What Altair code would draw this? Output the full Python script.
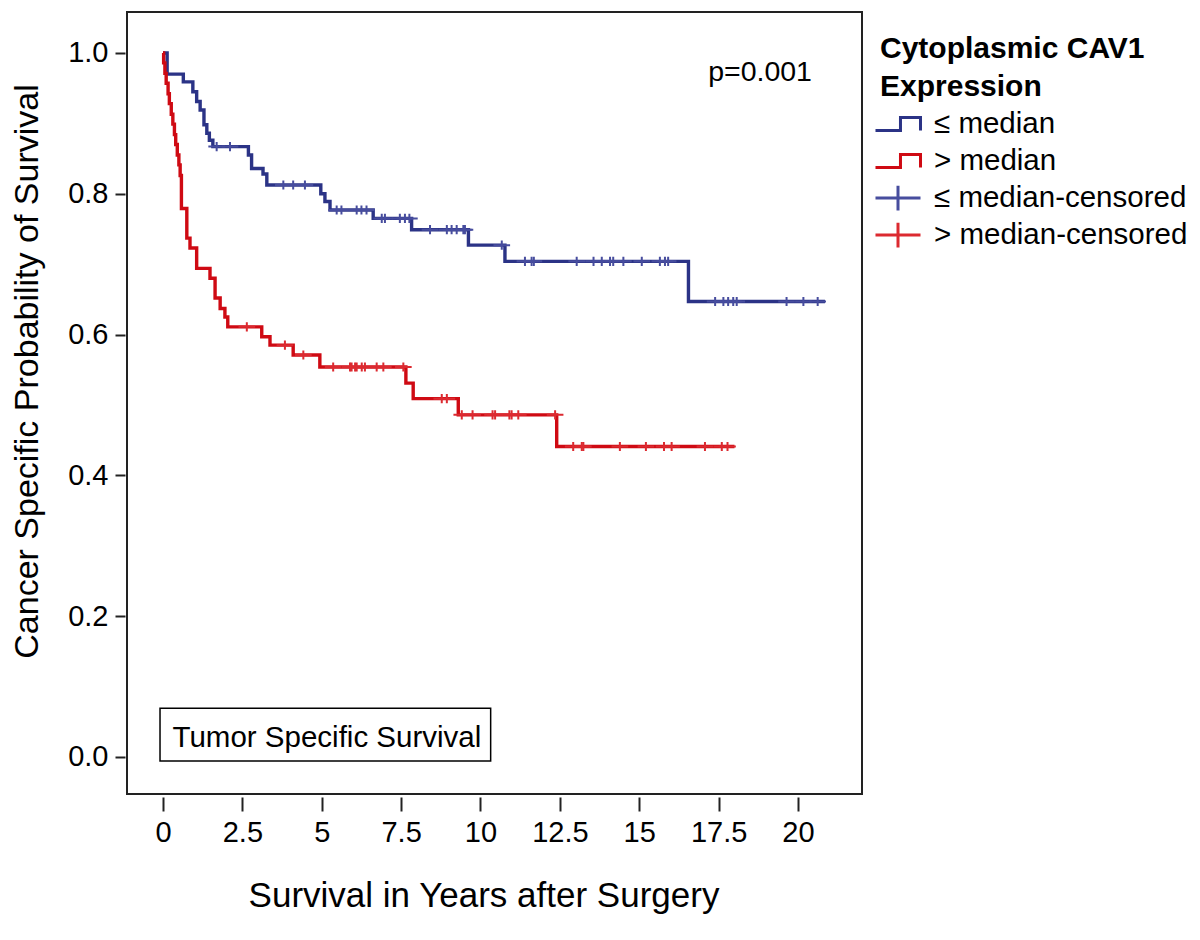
import altair as alt
import pandas as pd

# ---------------- data ----------------
series_names = ["≤ median", "> median", "≤ median-censored", "> median-censored"]
series_colors = ["#2b3386", "#cf0a13", "#474d9e", "#dc2a30"]

# Kaplan-Meier steps: low CAV1 expression (≤ median)
low_time = [0, 0.13, 0.64, 0.94, 1.06, 1.17, 1.29, 1.38, 1.46, 1.57, 2.69, 2.79, 3.15, 3.27,
            4.97, 5.10, 5.26, 6.62, 7.83, 9.62, 10.77, 16.55, 20.85]
low_surv = [1.0, 0.970, 0.959, 0.945, 0.931, 0.919, 0.898, 0.886, 0.876, 0.867, 0.855, 0.836, 0.828, 0.8125,
            0.800, 0.789, 0.777, 0.765, 0.749, 0.727, 0.704, 0.647, 0.647]
low_censor = [1.69, 2.11, 3.79, 4.10, 4.47, 5.47, 5.62, 6.10, 6.25, 6.41, 6.89, 6.99, 7.46, 7.62, 7.76,
              8.41, 8.94, 9.09, 9.25, 9.46, 9.51, 10.67, 11.40, 11.61, 11.68, 13.03, 13.56, 13.82, 14.08,
              14.18, 14.50, 15.08, 15.65, 15.81, 15.91, 17.39, 17.65, 17.80, 17.96, 18.07, 19.64, 20.17,
              20.62]

# Kaplan-Meier steps: high CAV1 expression (> median)
high_time = [0, 0.02, 0.06, 0.10, 0.16, 0.20, 0.26, 0.31, 0.36, 0.40, 0.45, 0.50, 0.54, 0.58, 0.75,
             0.85, 1.06, 1.48, 1.64, 1.80, 1.95, 2.04, 3.11, 3.37, 4.10, 4.94, 7.65, 7.88, 9.30, 12.40, 18.0]
high_surv = [1.0, 0.986, 0.971, 0.957, 0.942, 0.928, 0.913, 0.899, 0.884, 0.870, 0.855, 0.841, 0.826, 0.779,
             0.737, 0.723, 0.694, 0.680, 0.652, 0.637, 0.625, 0.611, 0.597, 0.585, 0.571, 0.554, 0.531,
             0.509, 0.486, 0.441, 0.441]
high_censor = [2.64, 3.84, 4.42, 5.36, 5.89, 5.94, 6.05, 6.10, 6.26, 6.36, 6.73, 6.94, 7.57, 8.78, 8.94,
               9.41, 9.75, 10.38, 10.46, 10.91, 10.98, 11.19, 12.35, 12.92, 13.19, 13.24, 14.39, 15.21,
               15.78, 16.02, 17.07, 17.60, 17.78]

x_ticks = [0, 2.5, 5, 7.5, 10, 12.5, 15, 17.5, 20]
y_ticks = [0.0, 0.2, 0.4, 0.6, 0.8, 1.0]

p_label = ["p=0.001"]
box_label = ["Tumor Specific Survival"]

# ---------------- tables ----------------
def step_value(times, survs, t):
    v = survs[0]
    for ti, si in zip(times, survs):
        if ti <= t:
            v = si
    return v

line_df = pd.concat([
    pd.DataFrame({"t": low_time, "s": low_surv, "series": series_names[0]}),
    pd.DataFrame({"t": high_time, "s": high_surv, "series": series_names[1]}),
])
cens_df = pd.concat([
    pd.DataFrame({"t": low_censor, "s": [step_value(low_time, low_surv, c) for c in low_censor],
                  "series": series_names[2]}),
    pd.DataFrame({"t": high_censor, "s": [step_value(high_time, high_surv, c) for c in high_censor],
                  "series": series_names[3]}),
])

p_df = pd.DataFrame({"t": [20.44], "s": [0.960], "label": p_label})
box_df = pd.DataFrame({"t": [-0.094], "t2": [10.32], "s": [0.0692], "s2": [-0.0057]})
box_text_df = pd.DataFrame({"t": [0.30], "s": [0.0146], "label": box_label})

FONT = "Liberation Sans"
x_scale = alt.Scale(domain=[-1.134, 22.016], nice=False, zero=False)
y_scale = alt.Scale(domain=[-0.0526, 1.0582], nice=False, zero=False)

# step icon (extra moveTo points give it the same vertical bounds as the cross)
step_path = "M-1.364,-0.75M-1.364,0.394H0.15V-0.394H1.364V0.394M1.364,0.75"
cross_path = "M-1.364,0H1.364M0,-0.75V0.75"

color_scale = alt.Scale(domain=series_names, range=series_colors)
shape_scale = alt.Scale(domain=series_names, range=[step_path, step_path, cross_path, cross_path])

legend = alt.Legend(
    title=["Cytoplasmic CAV1", "Expression"],
    orient="none", legendX=753, legendY=22, padding=0,
    titleFontSize=30, titleFontWeight="bold", titleFont=FONT, titleColor="black",
    titleLineHeight=38, titlePadding=4, titleLimit=600,
    labelFontSize=29.5, labelFont=FONT, labelColor="black", labelLimit=600, labelOffset=18,
    symbolSize=1089, symbolStrokeWidth=3, symbolOpacity=1, symbolFillColor="transparent",
    rowPadding=-12,
)

x_axis = alt.Axis(
    values=x_ticks, labelExpr="'' + datum.value", grid=False, domain=False, offset=3,
    tickSize=14, tickWidth=2, tickColor="#222",
    labelFontSize=29, labelFont=FONT, labelColor="black", labelPadding=7,
    labelFlush=False, labelOverlap=False,
    title="Survival in Years after Surgery", titleFontSize=35, titleFont=FONT,
    titleFontWeight="normal", titleColor="black",
    titleX=356.5, titleY=109, titleBaseline="alphabetic", titleAlign="center",
)
y_axis = alt.Axis(
    values=y_ticks, format=".1f", grid=False, domain=False, offset=2,
    tickSize=10, tickWidth=2, tickColor="#222",
    labelFontSize=29, labelFont=FONT, labelColor="black", labelPadding=7,
    labelFlush=False, labelOverlap=False,
    title="Cancer Specific Probability of Survival", titleFontSize=34, titleFont=FONT,
    titleFontWeight="normal", titleColor="black",
    titleX=-88, titleY=359, titleAngle=270, titleBaseline="alphabetic", titleAlign="center",
)

box = alt.Chart(box_df).mark_rect(fill="white", stroke="black", strokeWidth=1.5).encode(
    x=alt.X("t:Q", scale=x_scale, axis=x_axis),
    x2="t2:Q",
    y=alt.Y("s:Q", scale=y_scale, axis=y_axis),
    y2="s2:Q",
)
box_text = alt.Chart(box_text_df).mark_text(
    align="left", baseline="alphabetic", fontSize=29.5, font=FONT, color="black"
).encode(x="t:Q", y="s:Q", text="label:N")

lines = alt.Chart(line_df).mark_line(interpolate="step-after", strokeWidth=3.4).encode(
    x="t:Q", y="s:Q",
    color=alt.Color("series:N", scale=color_scale, legend=legend),
)
cens = alt.Chart(cens_df).mark_point(filled=False, size=149, strokeWidth=2, opacity=1).encode(
    x="t:Q", y="s:Q",
    color=alt.Color("series:N", scale=color_scale, legend=legend),
    shape=alt.Shape("series:N", scale=shape_scale, legend=legend),
)
p_text = alt.Chart(p_df).mark_text(
    align="right", baseline="alphabetic", fontSize=28.5, font=FONT, color="black"
).encode(x="t:Q", y="s:Q", text="label:N")

chart = alt.layer(box, box_text, lines, cens, p_text).properties(
    width=735, height=782,
    padding={"left": 119, "top": 4, "right": 330, "bottom": 140},
    autosize="none",
).configure(
    font=FONT,
    view=alt.ViewConfig(stroke="#222", strokeWidth=2),
)

chart.save("out.html", embed_options={"renderer": "svg", "actions": False})
